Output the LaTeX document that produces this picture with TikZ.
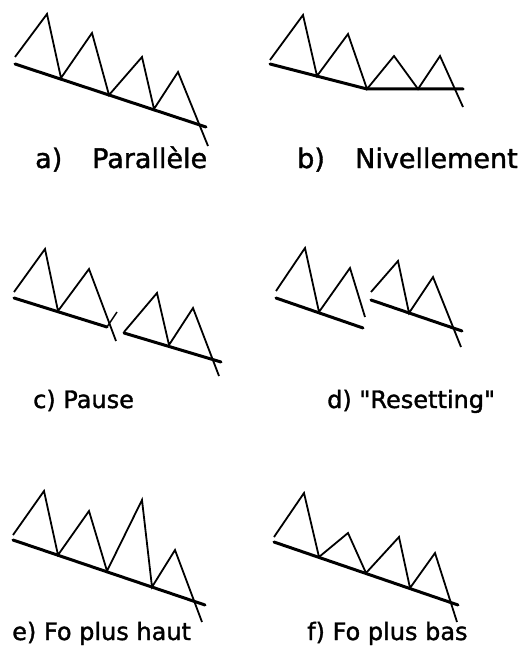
\documentclass[tikz,border=0pt]{standalone}
\usepackage{fontspec}
\setmainfont{DejaVu Sans}
\newfontfamily\capfont[FakeBold=1.4]{DejaVu Sans}
\usepackage{tikz}
\usetikzlibrary{positioning}
\tikzset{
  contour/.style={line width=1.8pt, line join=miter},
  decl/.style={line width=3pt, line cap=round},
  tick/.style={line width=1.5pt},
  capbig/.style={anchor=base west, inner sep=0pt, font=\capfont\fontsize{27}{30}\selectfont},
  capsmall/.style={anchor=base west, inner sep=0pt, font=\capfont\fontsize{24}{28}\selectfont},
}

\begin{document}
\begin{tikzpicture}[x=1pt,y=-1pt]
  \useasboundingbox (0,0) rectangle (527,658);
  % a) parallele
  \draw[decl] (15,64) -- (206,127);
  \draw[contour] (15,57) -- (47,14) -- (61,78) -- (92,33) -- (109,95)
     -- (142,57) -- (154,109) -- (178,72) -- (208,146);
  \node[capbig] (tagA) at (35,168) {a)};
  \node[capbig] (capA) at (92,168) {Parallèle};
  % b) nivellement
  \draw[decl] (270,64) -- (367,89) -- (463,89);
  \draw[contour] (270,60) -- (303,15) -- (317,76) -- (348,34) -- (367,89)
     -- (394,56) -- (418,89) -- (440,56) -- (463,107);
  \node[capbig] (tagB) at (297,168) {b)};
  \node[capbig] (capB) at (355,168) {Nivellement};
  % c) pause
  \draw[decl] (14,298) -- (107,327);
  \draw[tick] (107,327) -- (117,312);
  \draw[contour] (14,292) -- (45,249) -- (58,311) -- (89,269) -- (116,341);
  \draw[decl] (124,333) -- (221,362);
  \draw[contour] (124,332) -- (157,293) -- (169,345) -- (193,308) -- (219,376);
  \node[capsmall] (capC) at (33,408) {c) Pause};
  % d) resetting
  \draw[decl] (276,298) -- (363,328);
  \draw[contour] (276,291) -- (305,248) -- (319,312) -- (350,268) -- (365,317);
  \draw[decl] (371,300) -- (462,331);
  \draw[contour] (371,292) -- (398,261) -- (409,313) -- (433,277) -- (461,347);
  \node[capsmall] (capD) at (327,408) {d) \symbol{34}Resetting\symbol{34}};
  % e) Fo plus haut
  \draw[decl] (13,540) -- (205,605);
  \draw[contour] (13,535) -- (44,491) -- (58,555) -- (89,511) -- (107,571)
     -- (142,500) -- (152,587) -- (175,550) -- (202,622);
  \node[capsmall] (capE) at (12,640) {e) Fo plus haut};
  % f) Fo plus bas
  \draw[decl] (274,542) -- (458,605);
  \draw[contour] (274,537) -- (304,493) -- (319,557) -- (348,533) -- (366,573)
     -- (399,537) -- (410,588) -- (435,553) -- (457,622);
  \node[capsmall] (capF) at (307,640) {f) Fo plus bas};
\end{tikzpicture}
\end{document}
